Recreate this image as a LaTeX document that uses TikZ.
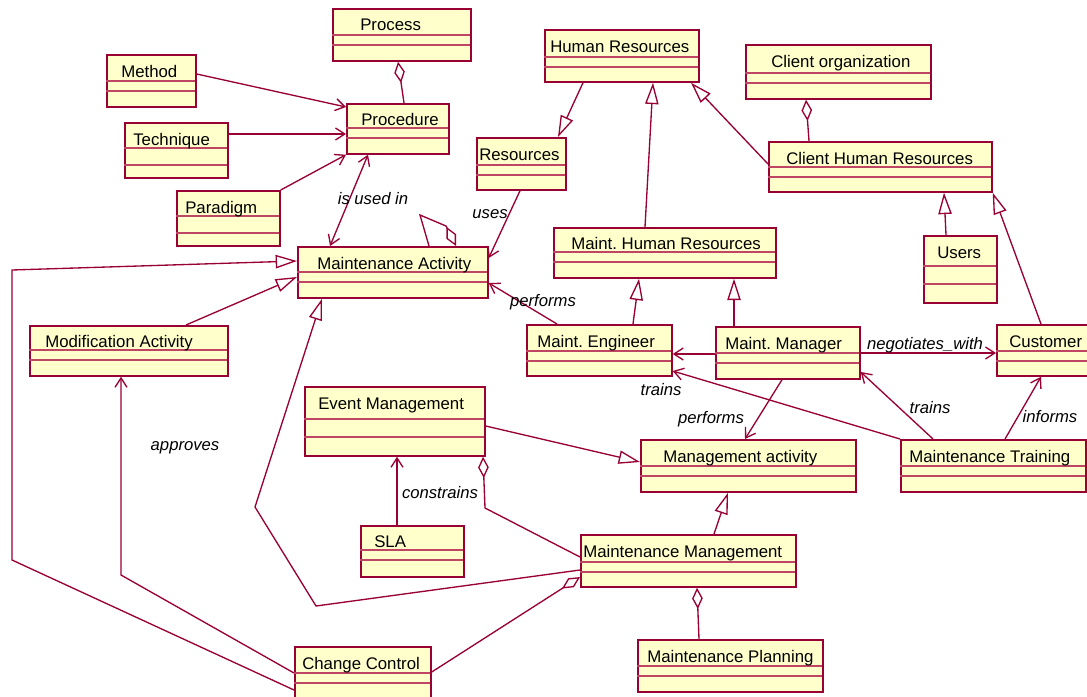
\documentclass[tikz,border=0pt]{standalone}
\usepackage{fontspec}
\setmainfont{Liberation Sans}
\usetikzlibrary{arrows.meta}
\frenchspacing

\definecolor{umlborder}{RGB}{153,0,51}
\definecolor{umlfill}{RGB}{255,255,204}
\definecolor{umlsep}{RGB}{190,70,100}

\tikzset{
  classbox/.style={draw=umlborder, fill=umlfill, line width=1.3pt, inner sep=0pt, anchor=north west},
  classsep/.style={draw=umlsep, line width=0.9pt},
  classname/.style={anchor=base west, inner sep=0pt, font=\fontsize{12.6}{14}\selectfont},
  assoc/.style={draw=umlborder, line width=1pt, -{Straight Barb[length=7pt,width=9pt]}},
  bothway/.style={draw=umlborder, line width=1pt, {Straight Barb[length=7pt,width=9pt]}-{Straight Barb[length=7pt,width=9pt]}},
  gen/.style={draw=umlborder, line width=1pt, -{Triangle[open,length=16pt,width=10pt]}},
  aggr/.style={draw=umlborder, line width=1pt, {Diamond[open,length=16pt,width=8pt]}-},
  rolelbl/.style={font=\itshape\fontsize{12.5}{14}\selectfont, inner sep=0pt}
}

% name, left, top, right, bottom, first line, second line, text x, text
\newcommand{\umlclass}[9]{%
  \node[classbox, minimum width={(#4-#2)*0.75pt}, minimum height={(#5-#3)*0.75pt}] (#1) at (#2,#3) {};
  \draw[classsep] (#2,#6) -- (#4,#6) (#2,#7) -- (#4,#7);
  \node[classname] (#1name) at (#8,{min(#6-3,#3+23)}) {#9};
}

\begin{document}
\begin{tikzpicture}[x=0.75pt,y=-0.75pt]
  \useasboundingbox (0,0) rectangle (1087,696);
  \fill[white] (0,0) rectangle (1087,696);
  \clip (0,0) rectangle (1087,696);

  \umlclass{process}{332}{8}{470}{60}{35}{45}{360}{Process}
  \umlclass{method}{106}{54}{195}{106}{81}{91}{121}{Method}
  \umlclass{procedure}{346}{103}{448}{153}{128}{138}{361}{Procedure}
  \umlclass{technique}{124}{122}{227}{177}{148}{165}{133}{Technique}
  \umlclass{paradigm}{176}{190}{279}{245}{216}{233}{185}{Paradigm}
  \umlclass{mactivity}{297}{246}{487}{297}{272}{282}{317}{Maintenance Activity}
  \umlclass{resources}{476}{137}{565}{189}{165}{175}{479}{Resources}
  \umlclass{humanres}{544}{29}{698}{81}{57}{67}{550}{Human Resources}
  \umlclass{clientorg}{745}{44}{930}{98}{73}{83}{771}{Client organization}
  \umlclass{clienthr}{768}{141}{991}{191}{167}{177}{786}{Client Human Resources}
  \umlclass{mainthr}{553}{227}{775}{277}{252}{262}{571}{Maint. Human Resources}
  \umlclass{users}{923}{235}{996}{302}{266}{284}{937}{Users}
  \umlclass{modactivity}{29}{325}{227}{375}{350}{360}{45}{Modification Activity}
  \umlclass{eventmgmt}{304}{386}{484}{455}{419}{437}{318}{Event Management}
  \umlclass{sla}{360}{525}{463}{576}{550}{560}{374}{SLA}
  \umlclass{changectl}{294}{646}{430}{702}{673}{683}{302}{Change Control}
  \umlclass{engineer}{526}{324}{671}{375}{351}{361}{537}{Maint. Engineer}
  \umlclass{manager}{715}{326}{859}{378}{353}{363}{725}{Maint. Manager}
  \umlclass{customer}{996}{324}{1095}{375}{351}{361}{1009}{Customer}
  \umlclass{mgmtactivity}{640}{439}{855}{491}{466}{476}{663}{Management activity}
  \umlclass{training}{900}{439}{1085}{491}{466}{476}{909}{Maintenance Training}
  \umlclass{maintmgmt}{580}{534}{795}{586}{562}{572}{583}{Maintenance Management}
  \umlclass{planning}{637}{639}{822}{691}{666}{676}{647}{Maintenance Planning}

  \draw[assoc] (method.east |- 0,74) -- (procedure.west |- 0,107);
  \draw[assoc] (technique.east |- 0,134) -- (procedure.west |- 0,134);
  \draw[assoc] (paradigm.north east) -- (procedure.south west);
  \draw[aggr] (process.south -| 398,0) -- (procedure.north -| 404,0);
  \draw[bothway] (procedure.south -| 368,0) -- (mactivity.north -| 330,0);
  \node[rolelbl] (lblusedin) at (373,199) {is used in};
  \draw[aggr] (mactivity.north -| 456,0) -- (446,226) -- (420,215) -- (mactivity.north -| 429,0);

  \draw[assoc] (resources.south -| 520,0) -- (mactivity.east |- 0,258);
  \node[rolelbl] (lbluses) at (490,214) {uses};
  \draw[gen] (humanres.south -| 583,0) -- (resources.north -| 558,0);
  \draw[gen] (mainthr.north -| 645,0) -- (humanres.south -| 653,0);
  \draw[gen] (clienthr.west |- 0,164) -- (humanres.south -| 691,0);
  \draw[aggr] (clientorg.south -| 806,0) -- (clienthr.north -| 809,0);
  \draw[gen] (users.north -| 946,0) -- (clienthr.south -| 944,0);
  \draw[gen] (customer.north -| 1041,0) -- (clienthr.south east);
  \draw[gen] (engineer.north -| 633,0) -- (mainthr.south -| 639,0);
  \draw[gen] (manager.north -| 734,0) -- (mainthr.south -| 734,0);

  \draw[assoc] (engineer.north -| 557,0) -- (mactivity.east |- 0,283);
  \node[rolelbl] (lblperforms) at (543,302) {performs};
  \draw[assoc] (manager.west |- 0,354) -- (engineer.east |- 0,354);
  \draw[assoc] (manager.east |- 0,353) -- (customer.west |- 0,353);
  \node[rolelbl] (lblnegotiates) at (925,345) {negotiates\_with};
  \draw[assoc] (training.north west) -- (engineer.east |- 0,371);
  \node[rolelbl] (lbltrainsa) at (661,390) {trains};
  \draw[assoc] (training.north -| 933,0) -- (manager.east |- 0,372);
  \node[rolelbl] (lbltrainsb) at (930,408) {trains};
  \draw[assoc] (training.north -| 1005,0) -- (customer.south -| 1041,0);
  \node[rolelbl] (lblinforms) at (1050,417) {informs};
  \draw[assoc] (manager.south -| 782,0) -- (mgmtactivity.north -| 745,0);
  \node[rolelbl] (lblperformsb) at (711,419) {performs};

  \draw[gen] (eventmgmt.east |- 0,426) -- (mgmtactivity.west |- 0,462);
  \draw[gen] (maintmgmt.north -| 714,0) -- (mgmtactivity.south -| 728,0);
  \draw[aggr] (maintmgmt.south -| 697,0) -- (planning.north -| 699,0);
  \draw[assoc] (sla.north -| 397,0) -- (eventmgmt.south -| 397,0);
  \node[rolelbl] (lblconstrains) at (440,493) {constrains};
  \draw[aggr] (eventmgmt.south -| 483,0) -- (485,508) -- (maintmgmt.west |- 0,557);

  \draw[gen] (modactivity.north -| 186,0) -- (mactivity.west |- 0,277);
  \draw[gen] (changectl.west |- 0,690) -- (12,560) -- (12,270) -- (mactivity.west |- 0,261);
  \draw[assoc] (changectl.west |- 0,673) -- (121,575) -- (modactivity.south -| 121,0);
  \node[rolelbl] (lblapproves) at (185,448) {approves};
  \draw[gen] (maintmgmt.west |- 0,570) -- (316,606) -- (255,507) -- (mactivity.south -| 322,0);
  \draw[aggr] (maintmgmt.west |- 0,577) -- (changectl.east |- 0,672);
\end{tikzpicture}
\end{document}
